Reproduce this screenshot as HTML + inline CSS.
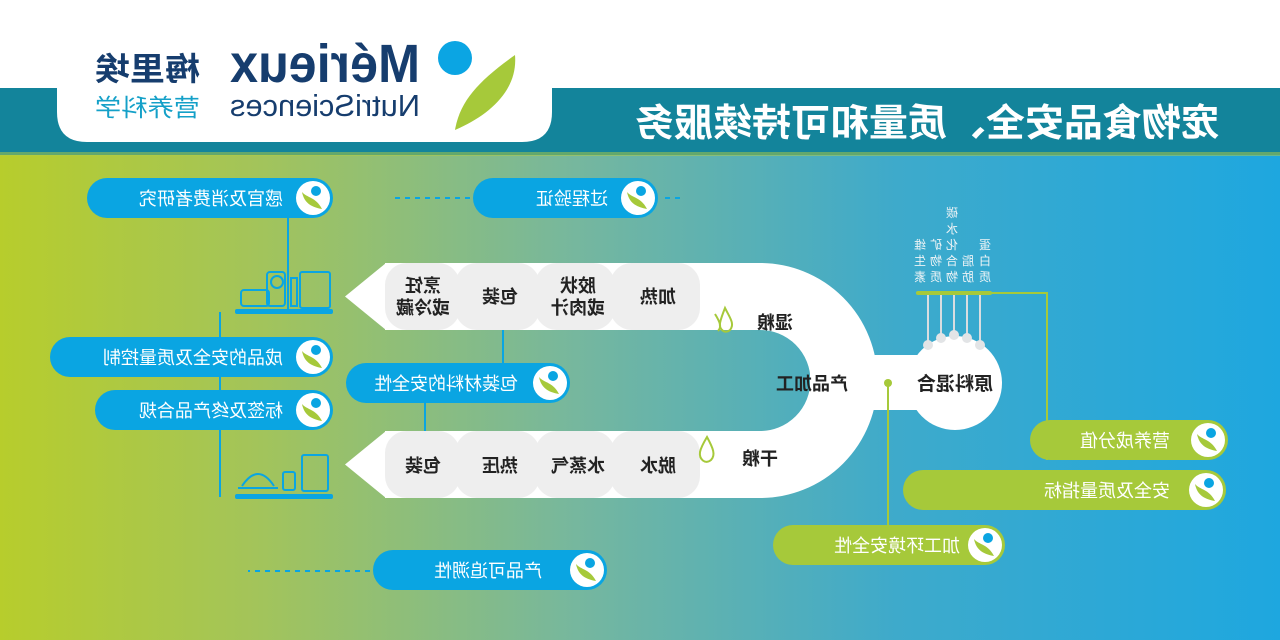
<!DOCTYPE html>
<html><head><meta charset="utf-8"><style>
html,body{margin:0;padding:0;width:1280px;height:640px;overflow:hidden;background:#fff}
#wrap{width:1280px;height:640px;transform:scaleX(-1);transform-origin:640px 320px}
text{font-family:"Liberation Sans","Noto Sans CJK SC",sans-serif}
</style></head><body><div id="wrap">
<svg width="1280" height="640" viewBox="0 0 1280 640" xmlns="http://www.w3.org/2000/svg">
<defs>
<linearGradient id="bg" x1="0" y1="0" x2="1" y2="0">
<stop offset="0" stop-color="#1ea7df"/><stop offset="0.3" stop-color="#3eaacb"/>
<stop offset="0.55" stop-color="#76b79e"/><stop offset="0.8" stop-color="#a3c45a"/>
<stop offset="1" stop-color="#b7cd2c"/></linearGradient>
<g id="ico"><circle cx="0" cy="0" r="17" fill="#fff"/><circle cx="-3" cy="-7" r="5" fill="#0aa5e2"/><path d="M-9 11 C-3 -1 6 0 11 -6 C9 4 3 9 -9 11Z" fill="#a6c93a"/></g>
</defs>
<rect x="0" y="0" width="1280" height="640" fill="#fff"/>
<rect x="0" y="155" width="1280" height="485" fill="url(#bg)"/>
<rect x="0" y="88" width="1280" height="67" fill="#13849b"/>
<rect x="0" y="152" width="1280" height="4" fill="#b3cb40" opacity="0.5"/>
<!-- logo card -->
<path d="M728 0 H1223 V112 Q1223 142 1193 142 H758 Q728 142 728 112Z" fill="#fff"/>
<circle cx="825" cy="58" r="17" fill="#0ba5e3"/>
<path d="M825 130 C820 100 800 80 765 55 C762 90 790 115 825 130Z" fill="#a6c93a"/>
<text x="860" y="82" font-size="54" font-weight="bold" fill="#163d6e" textLength="190" lengthAdjust="spacingAndGlyphs">Mérieux</text>
<text x="860" y="116" font-size="31" fill="#163d6e" textLength="190" lengthAdjust="spacingAndGlyphs">NutriSciences</text>
<text x="1080" y="80" font-size="32" font-weight="bold" fill="#163d6e" textLength="105" lengthAdjust="spacingAndGlyphs">梅里埃</text>
<text x="1080" y="116" font-size="24" fill="#14a0c8" textLength="105" lengthAdjust="spacingAndGlyphs">营养科学</text>
<text x="60" y="136" font-size="38" font-weight="bold" fill="#fff" textLength="585" lengthAdjust="spacingAndGlyphs">宠物食品安全、质量和可持续服务</text>

<!-- lines -->
<g stroke="#0aa5e2" stroke-width="2" fill="none">
<path d="M992 218 V312 M1060 312 V497 M777 316 V363 M855 403 V450"/>
<path d="M810 198 H890 M600 198 H620 M910 571 H1032" stroke-dasharray="5 5"/>
</g>
<rect x="947" y="309" width="98" height="5" rx="2" fill="#0aa5e2"/>
<rect x="947" y="494" width="98" height="5" rx="2" fill="#0aa5e2"/>
<circle cx="777" cy="316" r="4" fill="#0aa5e2"/><circle cx="855" cy="450" r="4" fill="#0aa5e2"/>
<g fill="none" stroke="#0aa5e2" stroke-width="2">
<rect x="950" y="272" width="30" height="36" rx="2"/><rect x="983" y="278" width="6" height="28"/>
<rect x="995" y="272" width="18" height="34" rx="3"/><circle cx="1003" cy="282" r="6"/>
<rect x="1011" y="290" width="28" height="16" rx="3"/>
<rect x="952" y="455" width="26" height="36" rx="2"/><rect x="985" y="472" width="12" height="18" rx="2"/>
<path d="M1002 488 H1042 M1006 486 Q1022 462 1038 486"/>
</g>

<!-- pipe -->
<path d="M895 296.5 H520 A84 84 0 0 0 520 464.5 H895" stroke="#fff" stroke-width="67" fill="none"/>
<polygon points="894,263 935,296.5 894,330" fill="#fff"/>
<polygon points="894,431 935,464.5 894,498" fill="#fff"/>
<g fill="#eeeeee">
<rect x="580" y="263" width="90" height="67" rx="22"/><rect x="665" y="263" width="80" height="67" rx="22"/><rect x="740" y="263" width="85" height="67" rx="22"/><rect x="820" y="263" width="75" height="67" rx="22"/>
<rect x="580" y="431" width="90" height="67" rx="22"/><rect x="665" y="431" width="80" height="67" rx="22"/><rect x="740" y="431" width="85" height="67" rx="22"/><rect x="820" y="431" width="75" height="67" rx="22"/>
</g>
<rect x="360" y="355" width="110" height="55" fill="#fff"/>
<circle cx="325" cy="383" r="47" fill="#fff"/>
<g font-size="18" font-weight="bold" fill="#222" text-anchor="middle">
<text x="857" y="292">烹饪</text><text x="857" y="314">或冷藏</text>
<text x="780" y="303">包装</text>
<text x="702" y="292">胶状</text><text x="702" y="314">或肉汁</text>
<text x="622" y="303">加热</text>
<text x="857" y="472">包装</text><text x="780" y="472">热压</text><text x="702" y="472">水蒸气</text><text x="622" y="472">脱水</text>
<text x="505" y="329">湿粮</text><text x="468" y="390">产品加工</text><text x="520" y="465">干粮</text>
<text x="325" y="390" font-size="19">原料混合</text>
</g>
<g fill="none" stroke="#a6c93a" stroke-width="2">
<path d="M555 308 C550 318 545 324 550 330 C555 334 561 330 560 323 C559 318 557 313 555 308Z"/>
<path d="M565 314 C560 322 558 327 562 331"/>
<path d="M573 437 C567 448 564 455 569 460 C575 465 581 459 580 452 C579 447 576 442 573 437Z"/>
</g>
<!-- ingredients -->
<g font-size="12" fill="#eef4f6" text-anchor="middle">
<text x="328" y="217">碳</text><text x="328" y="233">水</text><text x="328" y="249">化</text><text x="328" y="265">合</text><text x="328" y="281">物</text>
<text x="295" y="249">蛋</text><text x="295" y="265">白</text><text x="295" y="281">质</text>
<text x="312" y="265">脂</text><text x="312" y="281">肪</text>
<text x="344" y="249">矿</text><text x="344" y="265">物</text><text x="344" y="281">质</text>
<text x="360" y="249">维</text><text x="360" y="265">生</text><text x="360" y="281">素</text>
</g>
<g stroke="#d9dde0" stroke-width="2"><path d="M300 295 V345 M313 295 V338 M326 295 V335 M339 295 V338 M352 295 V345"/></g>
<g fill="#e2e4e6"><circle cx="300" cy="345" r="5"/><circle cx="313" cy="338" r="5"/><circle cx="326" cy="335" r="5"/><circle cx="339" cy="338" r="5"/><circle cx="352" cy="345" r="5"/></g>
<rect x="288" y="291" width="76" height="4" rx="2" fill="#a6c93a"/>
<path d="M364 293 H233 V460 M392 383 V525" stroke="#a6c93a" stroke-width="2" fill="none"/>
<circle cx="392" cy="383" r="4" fill="#a6c93a"/>

<!-- pills -->
<g font-size="18" fill="#fff">
<rect x="947" y="178" width="246" height="40" rx="20" fill="#0aa5e2"/><use href="#ico" x="967" y="198"/><text x="997" y="205">感官及消费者研究</text>
<rect x="622" y="178" width="185" height="40" rx="20" fill="#0aa5e2"/><use href="#ico" x="642" y="198"/><text x="672" y="205">过程验证</text>
<rect x="947" y="337" width="283" height="40" rx="20" fill="#0aa5e2"/><use href="#ico" x="967" y="357"/><text x="997" y="364">成品的安全及质量控制</text>
<rect x="947" y="390" width="238" height="40" rx="20" fill="#0aa5e2"/><use href="#ico" x="967" y="410"/><text x="997" y="417">标签及终产品合规</text>
<rect x="710" y="363" width="224" height="40" rx="20" fill="#0aa5e2"/><use href="#ico" x="730" y="383"/><text x="762" y="390">包装材料的安全性</text>
<rect x="673" y="550" width="234" height="40" rx="20" fill="#0aa5e2"/><use href="#ico" x="693" y="570"/><text x="738" y="577">产品可追溯性</text>
<rect x="52" y="420" width="198" height="40" rx="20" fill="#a6c93a"/><use href="#ico" x="72" y="440"/><text x="110" y="447">营养成分值</text>
<rect x="54" y="470" width="323" height="40" rx="20" fill="#a6c93a"/><use href="#ico" x="74" y="490"/><text x="110" y="497">安全及质量指标</text>
<rect x="275" y="525" width="232" height="40" rx="20" fill="#a6c93a"/><use href="#ico" x="295" y="545"/><text x="320" y="552">加工环境安全性</text>
</g>
</svg>
</div></body></html>
